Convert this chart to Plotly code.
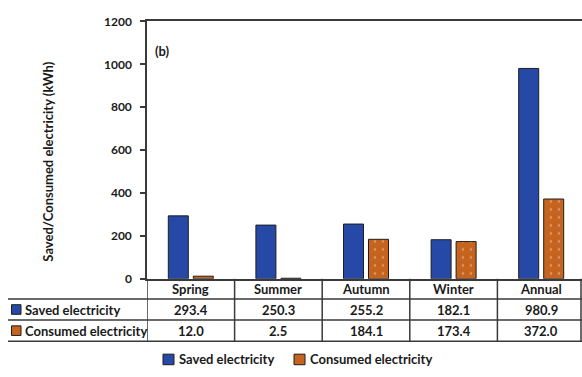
import plotly.graph_objects as go

# Seasonal electricity data (kWh)
seasons = ["Spring", "Summer", "Autumn", "Winter", "Annual"]
saved = [293.4, 250.3, 255.2, 182.1, 980.9]
consumed = [12.0, 2.5, 184.1, 173.4, 372.0]
series_names = ["Saved electricity", "Consumed electricity"]
y_ticks = [0, 200, 400, 600, 800, 1000, 1200]
y_title = "Saved/Consumed electricity (kWh)"
panel_label = "(b)"

W, H = 582, 377
BLUE = "#2649A8"
ORANGE = "#C5631F"
EDGE = "#1E1E1E"
LINE = "#3A3A3A"
TEXT = "#1A1A1A"
FONT = "Lato"

# pixel layout helpers
def px_x(p):
    return p / W

def px_y(p):
    return 1 - p / H

plot_left, plot_top, plot_bottom = 147, 14, 282
col_w = 87.6
row_lines = [303, 325, 347]
row_centers = [292.5, 314, 336]

fig = go.Figure()
fig.add_trace(go.Bar(
    x=seasons, y=saved, name=series_names[0],
    marker=dict(color=BLUE, line=dict(color=EDGE, width=1)),
    showlegend=False,
))
fig.add_trace(go.Bar(
    x=seasons, y=consumed, name=series_names[1],
    marker=dict(
        color=ORANGE, line=dict(color=EDGE, width=1),
        pattern=dict(shape=".", fillmode="overlay", fgcolor="#F6D2B4",
                     bgcolor=ORANGE, size=8, solidity=0.08),
    ),
    showlegend=False,
))

fig.update_layout(
    width=W, height=H,
    margin=dict(l=0, r=0, t=0, b=0),
    paper_bgcolor="white", plot_bgcolor="white",
    barmode="group", bargap=1 - 50 / col_w, bargroupgap=0.2,
    font=dict(family=FONT, color=TEXT, size=13),
    xaxis=dict(
        domain=[px_x(plot_left), 1],
        range=[-0.5, -0.5 + (W - plot_left) / col_w],
        showticklabels=False, ticks="", showgrid=False,
        showline=True, linecolor=LINE, linewidth=1.5, mirror=True,
        zeroline=False,
    ),
    yaxis=dict(
        domain=[px_y(plot_bottom), px_y(plot_top)],
        range=[0, 1200], tickvals=y_ticks,
        showgrid=False, zeroline=False,
        showline=True, linecolor=LINE, linewidth=1.5,
        ticks="outside", ticklen=5, tickwidth=1.5, tickcolor=LINE,
        ticklabelstandoff=6,
        tickfont=dict(family=FONT, size=12, color=TEXT, weight="bold"),
    ),
)

shapes = []
# table horizontal rules
for yl in row_lines:
    shapes.append(dict(type="line", xref="paper", yref="paper",
                       x0=px_x(8), x1=1, y0=px_y(yl), y1=px_y(yl),
                       line=dict(color=LINE, width=1.5)))
# table column dividers at category boundaries
for i in range(len(seasons)):
    shapes.append(dict(type="line", xref="x", yref="paper",
                       x0=i - 0.5, x1=i - 0.5,
                       y0=px_y(plot_bottom), y1=px_y(row_lines[-1]),
                       line=dict(color=LINE, width=1.5)))
shapes.append(dict(type="line", xref="paper", yref="paper",
                   x0=px_x(W - 1), x1=px_x(W - 1),
                   y0=px_y(plot_bottom), y1=px_y(row_lines[-1]),
                   line=dict(color=LINE, width=1.5)))

annotations = []
fb = dict(family=FONT, size=13, color=TEXT, weight="bold")

# header row: category names
for i, s in enumerate(seasons):
    annotations.append(dict(x=i, y=px_y(row_centers[0]), xref="x", yref="paper",
                            text=s, showarrow=False, font=fb,
                            xanchor="center", yanchor="middle"))
# value rows
for r, (vals, name, col) in enumerate(zip([saved, consumed], series_names, [BLUE, ORANGE])):
    yc = row_centers[r + 1]
    for i, v in enumerate(vals):
        annotations.append(dict(x=i, y=px_y(yc), xref="x", yref="paper",
                                text=f"{v:.1f}", showarrow=False, font=fb,
                                xanchor="center", yanchor="middle"))
    annotations.append(dict(x=px_x(23), y=px_y(yc), xref="paper", yref="paper",
                            text=name, showarrow=False, font=fb,
                            xanchor="left", yanchor="middle"))
    shapes.append(dict(type="rect", xref="paper", yref="paper",
                       x0=px_x(11.5), x1=px_x(21), y0=px_y(yc - 5), y1=px_y(yc + 5),
                       fillcolor=col, line=dict(color=EDGE, width=1)))

# bottom legend
legend_items = [(series_names[0], BLUE, 163), (series_names[1], ORANGE, 294)]
for name, col, x0 in legend_items:
    shapes.append(dict(type="rect", xref="paper", yref="paper",
                       x0=px_x(x0), x1=px_x(x0 + 11), y0=px_y(360.5), y1=px_y(371.5),
                       fillcolor=col, line=dict(color=EDGE, width=1)))
    annotations.append(dict(x=px_x(x0 + 14), y=px_y(366), xref="paper", yref="paper",
                            text=name, showarrow=False, font=fb,
                            xanchor="left", yanchor="middle"))

# axis title and panel label
annotations.append(dict(x=px_x(48), y=px_y(160), xref="paper", yref="paper",
                        text=y_title, textangle=-90, showarrow=False,
                        font=dict(family=FONT, size=13, color=TEXT, weight="bold"),
                        xanchor="center", yanchor="middle"))
annotations.append(dict(x=px_x(153), y=px_y(45), xref="paper", yref="paper",
                        text=panel_label, showarrow=False, font=fb,
                        xanchor="left", yanchor="middle"))

fig.update_layout(shapes=shapes, annotations=annotations)
fig.write_html("out.html")
